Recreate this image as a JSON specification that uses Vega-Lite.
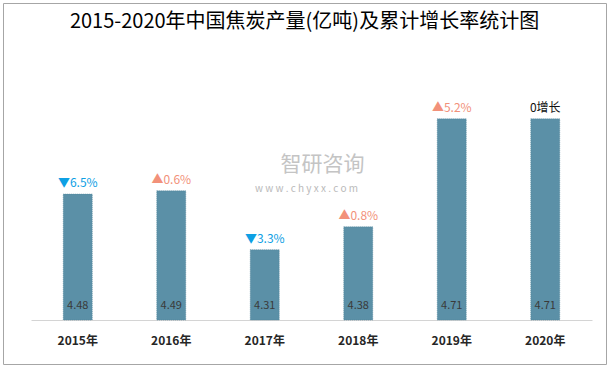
{
  "$schema": "https://vega.github.io/schema/vega-lite/v6.json",
  "width": 603,
  "height": 361,
  "autosize": {"type": "none"},
  "padding": {"left": 3, "top": 3, "right": 6, "bottom": 4},
  "background": "#ffffff",
  "config": {
    "view": {"stroke": "#a6a6a6", "strokeWidth": 1},
    "font": "Noto Sans CJK SC"
  },
  "datasets": {
    "coke": [
      {"year": "2015年", "output": 4.48, "growth": "▼6.5%", "dir": "down"},
      {"year": "2016年", "output": 4.49, "growth": "▲0.6%", "dir": "up"},
      {"year": "2017年", "output": 4.31, "growth": "▼3.3%", "dir": "down"},
      {"year": "2018年", "output": 4.38, "growth": "▲0.8%", "dir": "up"},
      {"year": "2019年", "output": 4.71, "growth": "▲5.2%", "dir": "up"},
      {"year": "2020年", "output": 4.71, "growth": "0增长", "dir": "zero"}
    ],
    "heading": [
      {"title": "2015-2020年中国焦炭产量(亿吨)及累计增长率统计图"}
    ],
    "mark1": [{"t": "智研咨询"}],
    "mark2": [{"t": "w w w . c h y x x . c o m"}]
  },
  "data": {"name": "coke"},
  "layer": [
    {
      "mark": {"type": "bar", "color": "#5b90a7", "stroke": "#4f8399", "strokeWidth": 0.6, "strokeDash": [1, 1]},
      "encoding": {
        "x": {
          "field": "year",
          "type": "nominal",
          "sort": null,
          "scale": {"range": [28, 589], "paddingInner": 0.69, "paddingOuter": 0.345},
          "axis": {
            "title": null,
            "orient": "bottom",
            "offset": -44,
            "ticks": false,
            "labelAngle": 0,
            "labelPadding": 15,
            "labelFontSize": 12,
            "labelFontWeight": "bold",
            "labelColor": "#262626",
            "labelFont": "Noto Sans CJK SC",
            "domainColor": "#d4d4d4",
            "domainWidth": 1,
            "grid": false
          }
        },
        "y": {
          "field": "output",
          "type": "quantitative",
          "scale": {"domain": [4.095, 5.0], "range": [317, 21], "zero": false, "nice": false},
          "axis": null
        },
        "y2": {"datum": 4.095}
      }
    },
    {
      "mark": {"type": "text", "baseline": "middle", "dy": -14, "fontSize": 11, "color": "#3a3a3a"},
      "encoding": {
        "x": {"field": "year", "type": "nominal", "sort": null},
        "y": {"datum": 4.095, "type": "quantitative"},
        "text": {"field": "output", "type": "quantitative", "format": ".2f"}
      }
    },
    {
      "mark": {"type": "text", "baseline": "middle", "dy": -11, "fontSize": 12},
      "encoding": {
        "x": {"field": "year", "type": "nominal", "sort": null},
        "y": {"field": "output", "type": "quantitative"},
        "text": {"field": "growth"},
        "color": {
          "field": "dir",
          "type": "nominal",
          "scale": {"domain": ["down", "up", "zero"], "range": ["#0ea0e4", "#f2917a", "#111111"]},
          "legend": null
        }
      }
    },
    {
      "data": {"name": "mark1"},
      "mark": {"type": "text", "baseline": "middle", "align": "center", "fontSize": 21, "color": "#c4c4c4", "dx": 18},
      "encoding": {
        "x": {"value": {"expr": "width / 2"}},
        "y": {"datum": 4.568, "type": "quantitative"},
        "text": {"field": "t"}
      }
    },
    {
      "data": {"name": "mark2"},
      "mark": {"type": "text", "baseline": "middle", "align": "center", "fontSize": 10, "color": "#bababa", "dx": 2},
      "encoding": {
        "x": {"value": {"expr": "width / 2"}},
        "y": {"datum": 4.497, "type": "quantitative"},
        "text": {"field": "t"}
      }
    },
    {
      "data": {"name": "heading"},
      "mark": {"type": "text", "baseline": "middle", "align": "center", "fontSize": 20, "color": "#000000", "font": "Noto Sans CJK SC"},
      "encoding": {
        "x": {"value": {"expr": "width / 2"}},
        "y": {"datum": 5.006, "type": "quantitative"},
        "text": {"field": "title"}
      }
    }
  ]
}
